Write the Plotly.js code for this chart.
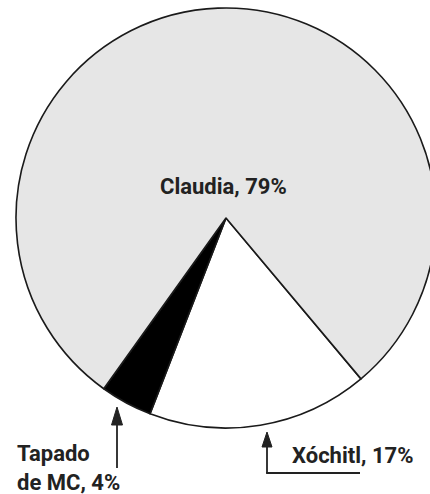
<!DOCTYPE html>
<html>
<head>
<meta charset="utf-8">
<script src="https://cdn.plot.ly/plotly-3.0.1.min.js"></script>
<style>
html,body{margin:0;padding:0;overflow:hidden;background:#fff;width:430px;height:494px;}
#chart{width:445px;height:494px;}
</style>
</head>
<body>
<div id="chart"></div>
<script>
// Data
const candidates = ["Xóchitl", "Tapado de MC", "Claudia"];
const shares = [17, 4, 79];
const sliceColors = ["#ffffff", "#000000", "#e6e6e6"];
const labelTexts = ["Xóchitl, 17%", "Tapado<br>de MC, 4%", "Claudia, 79%"];

const W = 445, H = 494;
const px = v => v / W;
const py = v => 1 - v / H;

const cx = 226, cy = 218, r = 210;

const trace = {
  type: "pie",
  labels: candidates,
  values: shares,
  sort: false,
  direction: "clockwise",
  rotation: 140,
  marker: { colors: sliceColors, line: { color: "#1a1a1a", width: 1.6 } },
  textinfo: "none",
  hoverinfo: "none",
  showlegend: false,
  domain: { x: [px(cx - r), px(cx + r)], y: [py(cy + r), py(cy - r)] }
};

const font = { family: "Roboto, 'Liberation Sans', sans-serif", size: 22, color: "#222222", weight: 700 };
const ink = "#222222";

// arrow helper: tip (tx,ty) in pixels, head length hl, half width hw
function head(tx, ty, hl, hw) {
  return {
    type: "path", xref: "paper", yref: "paper",
    path: `M ${px(tx)} ${py(ty)} L ${px(tx - hw)} ${py(ty + hl)} L ${px(tx + hw)} ${py(ty + hl)} Z`,
    fillcolor: ink, line: { color: ink, width: 1 }
  };
}
function seg(x0, y0, x1, y1) {
  return { type: "line", xref: "paper", yref: "paper", x0: px(x0), y0: py(y0), x1: px(x1), y1: py(y1), line: { color: ink, width: 1.8 } };
}

const layout = {
  width: W, height: H,
  margin: { l: 0, r: 0, t: 0, b: 0 },
  paper_bgcolor: "#ffffff",
  showlegend: false,
  annotations: [
    { xref: "paper", yref: "paper", x: px(223), y: py(186), text: labelTexts[2], showarrow: false, xanchor: "center", yanchor: "middle", font: font },
    { xref: "paper", yref: "paper", x: px(15), y: py(468), text: labelTexts[1], showarrow: false, xanchor: "left", yanchor: "middle", align: "left", font: font },
    { xref: "paper", yref: "paper", x: px(290), y: py(455), text: labelTexts[0], showarrow: false, xanchor: "left", yanchor: "middle", font: font }
  ],
  shapes: [
    seg(117, 420, 117, 468),
    head(117, 407, 18, 5.5),
    seg(267, 444, 267, 473),
    seg(266.1, 473, 360, 473),
    head(267, 432, 15, 5)
  ]
};

Plotly.newPlot("chart", [trace], layout, { displayModeBar: false, staticPlot: true });
</script>
</body>
</html>
